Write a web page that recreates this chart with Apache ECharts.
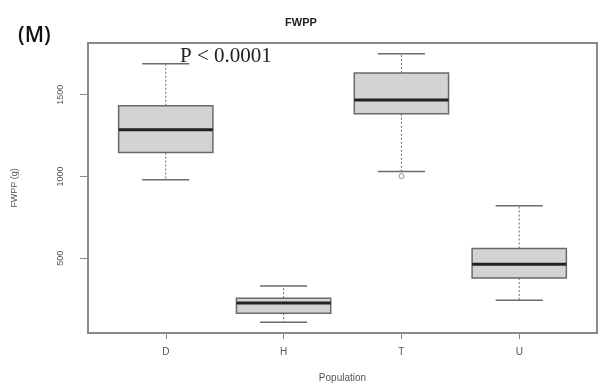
<!DOCTYPE html>
<html><head><meta charset="utf-8">
<script src="https://cdn.jsdelivr.net/npm/echarts@6/dist/echarts.min.js"></script>
<style>html,body{margin:0;padding:0;background:#fff}#c{width:610px;height:387px}</style>
</head><body><div id="c"></div>
<script>
const categories = ['D', 'H', 'T', 'U'];
const whiskerLow = [979, 108, 1030, 243];
const q1 = [1146, 163, 1383, 379];
const medians = [1285, 225, 1467, 463];
const q3 = [1432, 255, 1632, 559];
const whiskerHigh = [1689, 330, 1750, 820];
const outlierCat = [3];
const outlierVal = [1002];
const yTicks = [500, 1000, 1500];

const boxData = categories.map((c, i) => [i + 1, whiskerLow[i], q1[i], medians[i], q3[i], whiskerHigh[i]]);
const outData = outlierCat.map((c, i) => [c, outlierVal[i]]);

const chart = echarts.init(document.getElementById('c'));
const lineCol = '#6a6a6a';
chart.setOption({
  animation: false,
  title: {
    text: 'FWPP', left: 296, top: 12, textAlign: 'center',
    textStyle: {fontFamily: 'Liberation Sans', fontSize: 11, fontWeight: 'bold', color: '#222'}
  },
  graphic: [
    {type: 'text', left: 18, top: 26, style: {text: '(M)', font: '600 21px "Open Sans"', fill: '#111'}},
    {type: 'text', left: 180, top: 46, style: {text: 'P < 0.0001', font: '21px "Liberation Serif"', fill: '#222'}}
  ],
  grid: {left: 88, right: 13, top: 43, bottom: 54, show: true, borderColor: '#8a8a8a', borderWidth: 2,
    backgroundColor: '#fff', containLabel: false, outerBoundsMode: 'none'},
  xAxis: {
    type: 'value', min: 0.34, max: 4.66,
    name: 'Population', nameLocation: 'middle', nameGap: 40,
    nameTextStyle: {fontFamily: 'Liberation Sans', fontSize: 10, color: '#555'},
    axisLine: {show: false},
    splitLine: {show: false},
    axisTick: {show: true, customValues: [1, 2, 3, 4], length: 6, lineStyle: {color: '#888'}},
    axisLabel: {customValues: [1, 2, 3, 4], margin: 14, fontFamily: 'Liberation Sans', fontSize: 10, color: '#555',
      formatter: v => categories[Math.round(v) - 1] || ''}
  },
  yAxis: {
    type: 'value', min: 42, max: 1816,
    name: 'FWPP (g)', nameLocation: 'middle', nameGap: 69, nameRotate: 90,
    nameTextStyle: {fontFamily: 'Liberation Sans', fontSize: 9, color: '#555'},
    axisLine: {show: false},
    splitLine: {show: false},
    axisTick: {show: true, customValues: yTicks, length: 8, lineStyle: {color: '#888'}},
    axisLabel: {customValues: yTicks, rotate: 90, margin: 23, fontFamily: 'Liberation Sans', fontSize: 9, color: '#555',
      formatter: v => String(v)}
  },
  series: [
    {
      type: 'custom',
      data: boxData,
      encode: {x: 0, y: [1, 2, 3, 4, 5]},
      renderItem: function (params, api) {
        const x = api.value(0);
        const lo = api.value(1), a = api.value(2), m = api.value(3), b = api.value(4), hi = api.value(5);
        const hw = 0.4, cw = 0.2;
        const pLo = api.coord([x, lo]), pA = api.coord([x, a]), pM = api.coord([x, m]);
        const pB = api.coord([x, b]), pHi = api.coord([x, hi]);
        const xl = api.coord([x - hw, m])[0], xr = api.coord([x + hw, m])[0];
        const cl = api.coord([x - cw, m])[0], cr = api.coord([x + cw, m])[0];
        const dash = {stroke: lineCol, lineWidth: 1, lineDash: [2, 2]};
        const solid = {stroke: lineCol, lineWidth: 1.5};
        return {
          type: 'group',
          children: [
            {type: 'line', shape: {x1: pA[0], y1: pA[1], x2: pLo[0], y2: pLo[1]}, style: dash},
            {type: 'line', shape: {x1: pB[0], y1: pB[1], x2: pHi[0], y2: pHi[1]}, style: dash},
            {type: 'line', shape: {x1: cl, y1: pLo[1], x2: cr, y2: pLo[1]}, style: solid},
            {type: 'line', shape: {x1: cl, y1: pHi[1], x2: cr, y2: pHi[1]}, style: solid},
            {type: 'rect', shape: {x: xl, y: pB[1], width: xr - xl, height: pA[1] - pB[1]},
              style: {fill: '#d3d3d3', stroke: lineCol, lineWidth: 1.5}},
            {type: 'line', shape: {x1: xl, y1: pM[1], x2: xr, y2: pM[1]}, style: {stroke: '#222', lineWidth: 3}}
          ]
        };
      }
    },
    {
      type: 'scatter', data: outData, symbol: 'circle', symbolSize: 5,
      itemStyle: {color: 'transparent', borderColor: '#777', borderWidth: 1}
    }
  ]
});
</script></body></html>
